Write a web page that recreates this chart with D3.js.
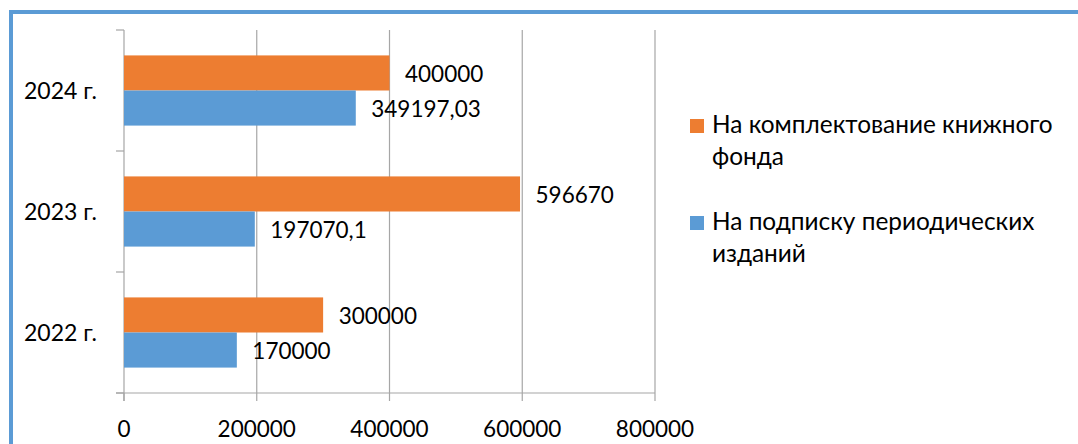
<!DOCTYPE html>
<html><head><meta charset="utf-8">
<script src="https://cdn.jsdelivr.net/npm/d3@7"></script>
<style>
html,body{margin:0;padding:0;background:#fff;}
svg{display:block;font-family:Lato,"Liberation Sans",sans-serif;}
</style></head>
<body>
<svg id="chart" width="1078" height="444"></svg>
<script>
const categories = ["2024 г.", "2023 г.", "2022 г."];
const seriesNames = ["На комплектование книжного фонда", "На подписку периодических изданий"];
const booksFund = [400000, 596670, 300000];
const periodicals = [349197.03, 197070.1, 170000];
const valueLabels = [["400000", "596670", "300000"], ["349197,03", "197070,1", "170000"]];
const xTicks = [0, 200000, 400000, 600000, 800000];
const colors = ["#ed7d31", "#5b9bd5"];

(function () {
const svg = d3.select("#chart");
// frame
svg.append("rect").attr("x", 11).attr("y", 12).attr("width", 1078).attr("height", 444)
  .attr("fill", "none").attr("stroke", "#5b9bd5").attr("stroke-width", 4);

const pL = 124, pR = 655, pT = 30, pB = 393;
const x = d3.scaleLinear().domain([0, 800000]).range([pL, pR]);
const y = d3.scaleBand().domain(categories).range([pT, pB]).paddingInner(0.42).paddingOuter(0.21);

const grid = "#a6a6a6";
// gridlines
svg.append("g").selectAll("line").data(xTicks.slice(1)).join("line")
  .attr("x1", d => x(d)).attr("x2", d => x(d)).attr("y1", pT).attr("y2", pB)
  .attr("stroke", grid).attr("stroke-width", 1.2);

// y axis line and ticks
const yBounds = d3.scaleLinear().domain([0, 3]).range([pT, pB]);
svg.append("line").attr("x1", pL).attr("x2", pL).attr("y1", pT).attr("y2", pB + 8)
  .attr("stroke", grid).attr("stroke-width", 1.2);
svg.append("g").selectAll("line").data([0,1,2,3]).join("line")
  .attr("x1", pL - 8).attr("x2", pL).attr("y1", d => yBounds(d)).attr("y2", d => yBounds(d))
  .attr("stroke", grid).attr("stroke-width", 1.2);
// x axis line & ticks
svg.append("line").attr("x1", pL - 8).attr("x2", pR).attr("y1", pB).attr("y2", pB)
  .attr("stroke", grid).attr("stroke-width", 1.2);
svg.append("g").selectAll("line").data(xTicks).join("line")
  .attr("x1", d => x(d)).attr("x2", d => x(d)).attr("y1", pB).attr("y2", pB + 8)
  .attr("stroke", grid).attr("stroke-width", 1.2);

// x tick labels
svg.append("g").selectAll("text").data(xTicks).join("text")
  .attr("x", d => x(d)).attr("y", 437).attr("text-anchor", "middle")
  .attr("font-size", 22.5).attr("fill", "#000").text(d => String(d));

// category labels
svg.append("g").selectAll("text").data(categories).join("text")
  .attr("x", 24).attr("y", d => y(d) + y.bandwidth() / 2 + 8)
  .attr("font-size", 23).attr("fill", "#000").text(d => d);

const series = [booksFund, periodicals];
const bh = y.bandwidth() / 2;
series.forEach((vals, si) => {
  const g = svg.append("g");
  g.selectAll("rect").data(categories).join("rect")
    .attr("x", x(0)).attr("y", c => y(c) + si * bh)
    .attr("width", (c, i) => x(vals[i]) - x(0)).attr("height", bh)
    .attr("fill", colors[si]);
  g.selectAll("text").data(categories).join("text")
    .attr("x", (c, i) => x(vals[i]) + 15.5).attr("y", c => y(c) + si * bh + bh / 2 + 9)
    .attr("font-size", 22.5).attr("fill", "#000").text((c, i) => valueLabels[si][i]);
});

// legend
const legend = [
  {lines: ["На комплектование книжного", "фонда"], y: 133},
  {lines: ["На подписку периодических", "изданий"], y: 230}
];
legend.forEach((l, i) => {
  svg.append("rect").attr("x", 690).attr("y", l.y - 14).attr("width", 14).attr("height", 14).attr("fill", colors[i]);
  const t = svg.append("text").attr("x", 712).attr("y", l.y).attr("font-size", 24.4).attr("fill", "#000");
  l.lines.forEach((s, j) => t.append("tspan").attr("x", 712).attr("dy", j ? 32 : 0).text(s));
});
})();
</script>
</body></html>
